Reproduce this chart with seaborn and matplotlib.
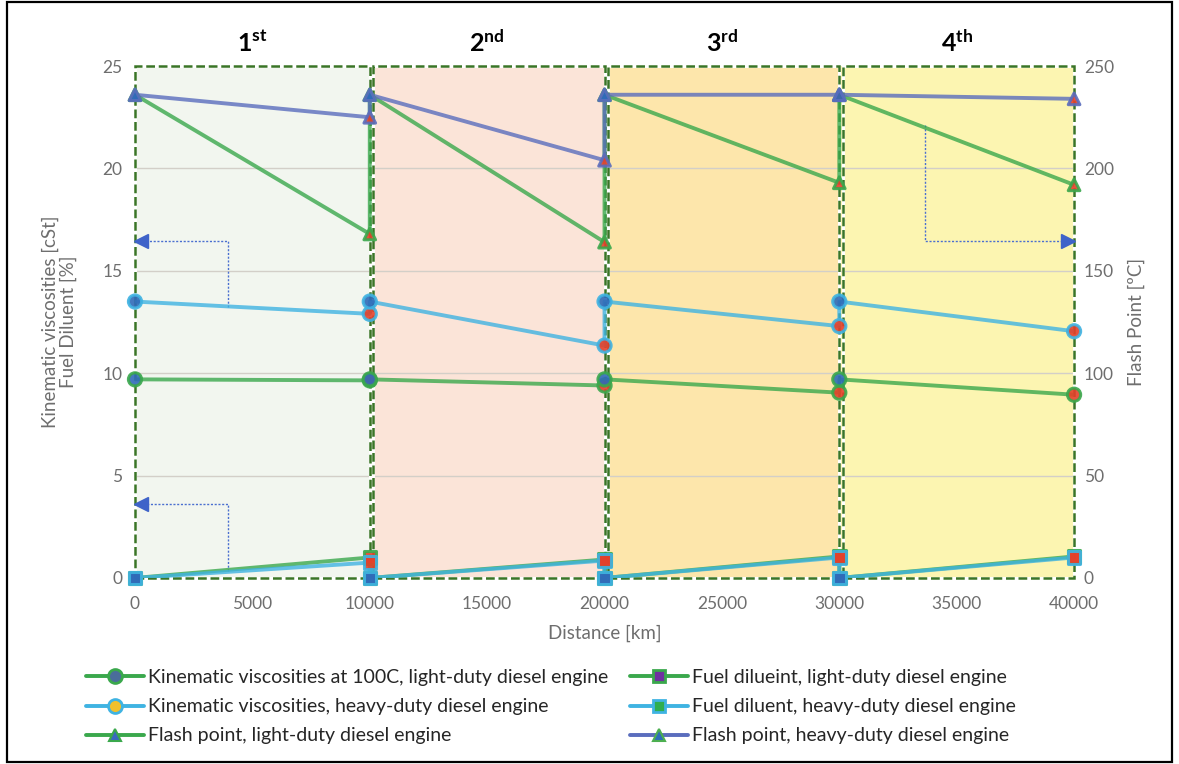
import numpy as np
import pandas as pd
import matplotlib
matplotlib.use("Agg")
import matplotlib.pyplot as plt
from matplotlib.patches import Rectangle
from matplotlib.lines import Line2D
import seaborn as sns

# Oil-drain intervals: each period starts with fresh oil, values at start and end of period
distance = [0, 10000, 10000, 20000, 20000, 30000, 30000, 40000]
visc_light = [9.7, 9.65, 9.7, 9.4, 9.7, 9.05, 9.7, 8.95]
visc_heavy = [13.5, 12.9, 13.5, 11.35, 13.5, 12.3, 13.5, 12.05]
dil_light = [0.0, 1.0, 0.0, 0.9, 0.0, 1.05, 0.0, 1.05]
dil_heavy = [0.0, 0.75, 0.0, 0.85, 0.0, 1.0, 0.0, 1.0]
flash_light = [236, 168, 236, 164, 236, 193, 236, 192]
flash_heavy = [236, 225, 236, 204, 236, 236, 236, 234]

period_num = ["1", "2", "3", "4"]
period_suffix = ["st", "nd", "rd", "th"]
period_edges = [0, 10000, 20000, 30000, 40000]
period_colors = ["#f2f6ef", "#fbe4d8", "#fde6ab", "#fcf5b1"]

x_ticks = [0, 5000, 10000, 15000, 20000, 25000, 30000, 35000, 40000]
left_ticks = [0, 5, 10, 15, 20, 25]
right_ticks = [0, 50, 100, 150, 200, 250]

legend_labels = [
    "Kinematic viscosities at 100C, light-duty diesel engine",
    "Kinematic viscosities, heavy-duty diesel engine",
    "Flash point, light-duty diesel engine",
    "Fuel dilueint, light-duty diesel engine",
    "Fuel diluent, heavy-duty diesel engine",
    "Flash point, heavy-duty diesel engine",
]

# guide arrows: polyline vertices (x, y on left axis) ending at the arrow tip
arrow_left_upper_x = [3960, 3960, 0]
arrow_left_upper_y = [13.25, 16.45, 16.45]
arrow_left_lower_x = [3960, 3960, 0]
arrow_left_lower_y = [0.35, 3.6, 3.6]
arrow_right_x = [33650, 33650, 40000]
arrow_right_y = [22.1, 16.45, 16.45]

GREEN = "#3aa84c"
LIGHTBLUE = "#3fb3e2"
SLATE = "#5a6dbd"
START_FACE = "#2f6bb8"
END_FACE = "#e5402a"
TICK_GREY = "#6e6e6e"
BORDER_GREEN = "#3a7526"

sns.set_theme(style="white")
plt.rcParams["font.family"] = ["Lato", "DejaVu Sans"]
plt.rcParams["mathtext.fontset"] = "custom"
plt.rcParams["mathtext.rm"] = "Lato"
plt.rcParams["mathtext.bf"] = "Lato:bold"

df = pd.DataFrame({
    "distance": distance,
    "visc_light": visc_light,
    "visc_heavy": visc_heavy,
    "dil_light": dil_light,
    "dil_heavy": dil_heavy,
    "flash_light": flash_light,
    "flash_heavy": flash_heavy,
})

fig = plt.figure(figsize=(11.79, 7.64), dpi=100)
ax = fig.add_axes([0.1145, 0.2435, 0.7965, 0.670])
ax2 = ax.twinx()

ax.set_xlim(0, 40000)
ax.set_ylim(0, 25)
ax2.set_ylim(0, 250)

# shaded periods with dashed borders
for i in range(4):
    x0, x1 = period_edges[i], period_edges[i + 1]
    ax.axvspan(x0, x1, color=period_colors[i], zorder=0, lw=0)
for i in range(4):
    x0, x1 = period_edges[i], period_edges[i + 1]
    off = 0 if i == 0 else 150
    ax.add_patch(Rectangle((x0 + off, 0), x1 - x0 - off, 25, fill=False,
                           ec="white", lw=2.2, zorder=2.4, clip_on=False))
    ax.add_patch(Rectangle((x0 + off, 0), x1 - x0 - off, 25, fill=False,
                           ec=BORDER_GREEN, lw=1.8, ls=(0, (3.5, 1.5)),
                           zorder=2.5, clip_on=False))

for yv in left_ticks[1:-1]:
    ax.axhline(yv, color="#d3cfc8", lw=1.0, zorder=0.5)

face_cols = [START_FACE if k % 2 == 0 else END_FACE for k in range(len(distance))]


def draw_series(axis, col, color, marker, size):
    sns.lineplot(data=df, x="distance", y=col, ax=axis, estimator=None,
                 sort=False, color=color, lw=2.8, alpha=0.8, legend=False,
                 zorder=3)
    axis.scatter(df["distance"], df[col], marker=marker, s=size,
                 facecolors=face_cols, edgecolors=color, linewidths=2.2,
                 alpha=0.9, zorder=5, clip_on=False)


draw_series(ax, "visc_light", GREEN, "o", 90)
draw_series(ax, "visc_heavy", LIGHTBLUE, "o", 90)
draw_series(ax, "dil_light", GREEN, "s", 80)
draw_series(ax, "dil_heavy", LIGHTBLUE, "s", 80)
draw_series(ax2, "flash_light", GREEN, "^", 70)
draw_series(ax2, "flash_heavy", SLATE, "^", 70)

# guide arrows
for xs, ys, head in [(arrow_left_upper_x, arrow_left_upper_y, "<"),
                     (arrow_left_lower_x, arrow_left_lower_y, "<"),
                     (arrow_right_x, arrow_right_y, ">")]:
    ax.plot(xs, ys, color="#4a6fd0", lw=1.0, ls=(0, (1.5, 1.2)), zorder=2.8)
    ax.plot(xs[-1] + (250 if head == "<" else -250), ys[-1], marker=head,
            color="#3f63c9", ms=10, zorder=6, clip_on=False)

# period labels
for i in range(4):
    xc = (period_edges[i] + period_edges[i + 1]) / 2
    ax.text(xc, 1.046, r"$\mathbf{%s^{%s}}$" % (period_num[i], period_suffix[i]),
            transform=ax.get_xaxis_transform(), ha="center", va="center",
            fontsize=18, color="black")

# axes styling
for a in (ax, ax2):
    for s in a.spines.values():
        s.set_visible(False)
    a.grid(False)

ax.set_xticks(x_ticks)
ax.set_xticklabels([str(v) for v in x_ticks])
ax.set_yticks(left_ticks)
ax.set_yticklabels([str(v) for v in left_ticks])
ax2.set_yticks(right_ticks)
ax2.set_yticklabels([str(v) for v in right_ticks])
ax.tick_params(axis="x", length=0, pad=13, labelsize=12.5, labelcolor=TICK_GREY)
ax.tick_params(axis="y", length=0, pad=9, labelsize=12.5, labelcolor=TICK_GREY)
ax2.tick_params(axis="y", length=0, pad=7, labelsize=12.5, labelcolor=TICK_GREY)

ax.set_xlabel("Distance [km]", fontsize=13.5, color=TICK_GREY, labelpad=9)
ax.set_ylabel("Kinematic viscosities [cSt]\nFuel Diluent [%]", fontsize=13.5,
              color=TICK_GREY, labelpad=18, linespacing=1.05)
ax2.set_ylabel("Flash Point [ºC]", fontsize=13.5, color=TICK_GREY, labelpad=10)

# legend
handles = [
    Line2D([], [], color=GREEN, lw=2.8, marker="o", ms=10, mfc="#4a6d9a", mec=GREEN, mew=2),
    Line2D([], [], color=LIGHTBLUE, lw=2.8, marker="o", ms=10, mfc="#f0c02c", mec=LIGHTBLUE, mew=2),
    Line2D([], [], color=GREEN, lw=2.8, marker="^", ms=9, mfc="#3a68c0", mec=GREEN, mew=1.5),
    Line2D([], [], color=GREEN, lw=2.8, marker="s", ms=9, mfc="#7030a0", mec=GREEN, mew=2),
    Line2D([], [], color=LIGHTBLUE, lw=2.8, marker="s", ms=9, mfc="#2eae4f", mec=LIGHTBLUE, mew=2),
    Line2D([], [], color=SLATE, lw=2.8, marker="^", ms=9, mfc="#2e6fb8", mec="#4caf50", mew=1.5),
]
fig.legend(handles, legend_labels, ncol=2, loc="upper left",
           bbox_to_anchor=(0.073, 0.124), frameon=False, fontsize=14,
           handlelength=3.0, handletextpad=0.2, columnspacing=1.1,
           labelspacing=0.62, borderaxespad=0, borderpad=0)

# outer frame
fig.patches.append(Rectangle((0.006, 0.003), 0.988, 0.994, transform=fig.transFigure,
                             fill=False, ec="black", lw=1.6, zorder=10))

fig.savefig("out.png", dpi=100)
